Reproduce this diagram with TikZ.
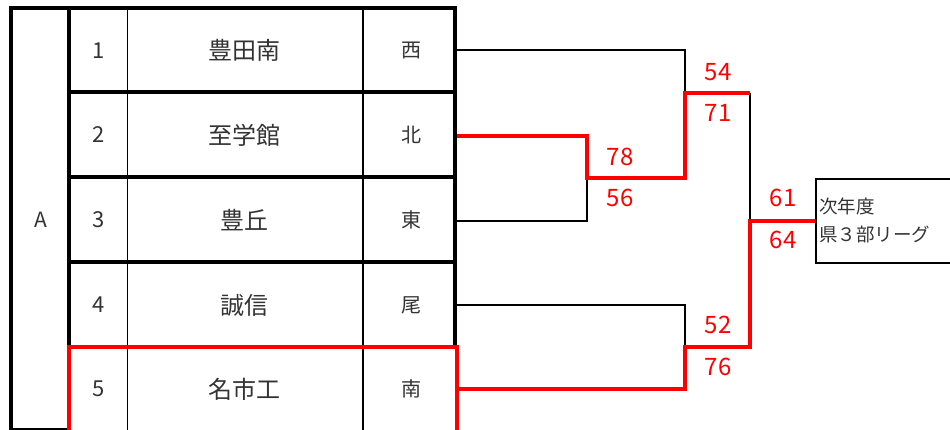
\documentclass[tikz,border=0pt]{standalone}
\usepackage{fontspec}
\setmainfont{Noto Sans CJK JP}
\definecolor{txtgray}{HTML}{333333}
\definecolor{winred}{HTML}{FF0000}
\newcommand\FontA{\fontsize{21}{23}\selectfont}
\newcommand\FontNum{\fontsize{22}{24}\selectfont}
\newcommand\FontName{\fontsize{24}{26}\selectfont}
\newcommand\FontDir{\fontsize{20}{22}\selectfont}
\newcommand\FontScore{\fontsize{24}{26}\selectfont}
\newcommand\FontBox{\fontsize{18.5}{20}\selectfont}
\begin{document}
\begin{tikzpicture}[x=1pt,y=-1pt,
  heavy/.style={line width=4pt,black},
  light/.style={line width=1.6pt,black},
  winline/.style={line width=4.5pt,winred},
  cell/.style={inner sep=0pt,text=txtgray},
  score/.style={inner sep=0pt,text=winred,font=\FontScore},
  boxtext/.style={inner sep=0pt,text=txtgray,font=\FontBox,anchor=west}]
\useasboundingbox (0,0) rectangle (950,430);
\clip (0,0) rectangle (950,430);

% ---- table lines ----
\draw[light] (11,429) -- (69,429);
\draw[light] (127.5,8) -- (127.5,432);
\draw[light] (363,8) -- (363,432);
\draw[heavy] (9,8) -- (457,8);
\draw[heavy] (69,92) -- (457,92);
\draw[heavy] (69,177) -- (457,177);
\draw[heavy] (69,262) -- (457,262);
\draw[heavy] (11,6) -- (11,432);
\draw[heavy] (69,6) -- (69,347);
\draw[heavy] (455,6) -- (455,347);
\draw[winline] (69,434) -- (69,347) -- (457,347) -- (457,434);

% ---- table text ----
\node[cell,font=\FontA] (A) at (41,220) {A};
\node[cell,font=\FontNum] (n1) at (99,51) {1};
\node[cell,font=\FontNum] (n2) at (99,135) {2};
\node[cell,font=\FontNum] (n3) at (99,220) {3};
\node[cell,font=\FontNum] (n4) at (99,305) {4};
\node[cell,font=\FontNum] (n5) at (99,389) {5};
\node[cell,font=\FontName] (s1) at (244,50) {豊田南};
\node[cell,font=\FontName] (s2) at (244,135) {至学館};
\node[cell,font=\FontName] (s3) at (244,220) {豊丘};
\node[cell,font=\FontName] (s4) at (244,305) {誠信};
\node[cell,font=\FontName] (s5) at (244,389) {名市工};
\node[cell,font=\FontDir] (d1) at (411,51) {西};
\node[cell,font=\FontDir] (d2) at (411,135) {北};
\node[cell,font=\FontDir] (d3) at (411,220) {東};
\node[cell,font=\FontDir] (d4) at (411,305) {尾};
\node[cell,font=\FontDir] (d5) at (411,389) {南};

% ---- bracket coordinates ----
\coordinate (e1) at (457,50);
\coordinate (e2) at (457,136);
\coordinate (e3) at (457,221);
\coordinate (e4) at (457,305);
\coordinate (e5) at (457,389);
\coordinate (j23) at (587,178);
\coordinate (j123) at (685,93);
\coordinate (j45) at (685,347);
\coordinate (fa) at (750,93);
\coordinate (fb) at (750,347);
\coordinate (fin) at (750,220);

% ---- result box ----
\node[draw,light,minimum width=150pt,minimum height=84pt,anchor=north west,inner sep=0pt] (res) at (815,178) {};
\node[boxtext] (res1) at (819,206) {次年度};
\node[boxtext] (res2) at (819,234) {県３部リーグ};

% ---- bracket lines ----
\draw[light] (e1) -| (j123);
\draw[light] (e3) -| (j23);
\draw[light] (e4) -| (j45);
\draw[light] (fa) -- (fin);
\draw[winline] (e2) -| (j23) -| (j123) -- (fa);
\draw[winline] (e5) -| (j45) -- (fb) |- (res.west);

% ---- scores ----
\node[score] (sc54) at (718,72) {54};
\node[score] (sc71) at (718,113) {71};
\node[score] (sc78) at (620,157) {78};
\node[score] (sc56) at (620,198) {56};
\node[score] (sc61) at (783,198) {61};
\node[score] (sc64) at (783,240) {64};
\node[score] (sc52) at (718,325) {52};
\node[score] (sc76) at (718,367) {76};
\end{tikzpicture}
\end{document}
